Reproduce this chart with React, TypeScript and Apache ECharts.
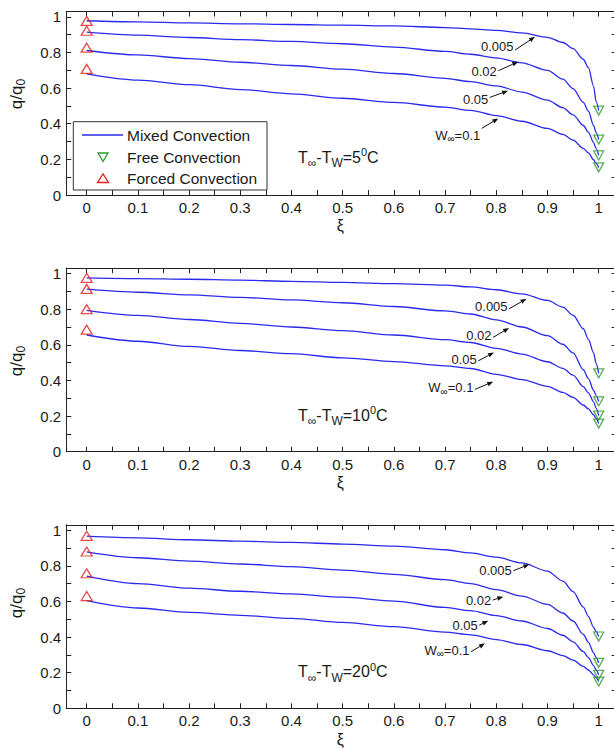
import React, { useEffect, useRef } from "react";
import * as echarts from "echarts";

// ---------- data ----------
const xi = [0, 0.1, 0.2, 0.3, 0.4, 0.5, 0.6, 0.7, 0.75, 0.8, 0.85, 0.9, 0.93, 0.95, 0.97, 0.98, 0.99, 0.995, 1];

// T∞-Tw = 5°C, W∞ = 0.005, 0.02, 0.05, 0.1
const m5_0005 = [0.978, 0.972, 0.966, 0.961, 0.957, 0.953, 0.949, 0.94, 0.933, 0.924, 0.91, 0.885, 0.856, 0.822, 0.762, 0.715, 0.61, 0.525, 0.474];
const m5_002 = [0.914, 0.897, 0.884, 0.872, 0.862, 0.849, 0.83, 0.806, 0.79, 0.77, 0.742, 0.7, 0.65, 0.597, 0.52, 0.47, 0.39, 0.35, 0.311];
const m5_005 = [0.811, 0.786, 0.766, 0.745, 0.727, 0.706, 0.682, 0.655, 0.636, 0.612, 0.578, 0.533, 0.49, 0.45, 0.39, 0.352, 0.295, 0.26, 0.222];
const m5_01 = [0.68, 0.645, 0.619, 0.592, 0.568, 0.543, 0.52, 0.493, 0.475, 0.446, 0.414, 0.374, 0.34, 0.308, 0.262, 0.236, 0.198, 0.178, 0.155];
const forced5 = [0.977, 0.922, 0.827, 0.708];
const free5 = [0.474, 0.311, 0.222, 0.155];

// T∞-Tw = 10°C
const m10_0005 = [0.976, 0.972, 0.968, 0.963, 0.956, 0.95, 0.943, 0.935, 0.925, 0.909, 0.886, 0.849, 0.812, 0.766, 0.69, 0.63, 0.555, 0.495, 0.44];
const m10_002 = [0.912, 0.895, 0.88, 0.866, 0.852, 0.836, 0.815, 0.79, 0.773, 0.74, 0.7, 0.651, 0.603, 0.555, 0.46, 0.41, 0.345, 0.315, 0.282];
const m10_005 = [0.793, 0.765, 0.742, 0.72, 0.7, 0.68, 0.655, 0.629, 0.613, 0.58, 0.548, 0.505, 0.468, 0.43, 0.365, 0.33, 0.28, 0.245, 0.203];
const m10_01 = [0.655, 0.62, 0.591, 0.568, 0.55, 0.527, 0.506, 0.482, 0.467, 0.434, 0.405, 0.367, 0.333, 0.305, 0.262, 0.24, 0.208, 0.185, 0.158];
const forced10 = [0.976, 0.914, 0.8, 0.685];
const free10 = [0.44, 0.282, 0.203, 0.158];

// T∞-Tw = 20°C
const m20_0005 = [0.966, 0.957, 0.946, 0.938, 0.931, 0.922, 0.91, 0.89, 0.872, 0.848, 0.816, 0.77, 0.714, 0.655, 0.568, 0.515, 0.455, 0.43, 0.403];
const m20_002 = [0.878, 0.845, 0.826, 0.81, 0.795, 0.776, 0.752, 0.722, 0.7, 0.666, 0.63, 0.583, 0.535, 0.49, 0.415, 0.37, 0.312, 0.285, 0.255];
const m20_005 = [0.742, 0.7, 0.674, 0.657, 0.642, 0.624, 0.602, 0.566, 0.548, 0.52, 0.49, 0.448, 0.41, 0.373, 0.318, 0.285, 0.24, 0.215, 0.188];
const m20_01 = [0.604, 0.563, 0.538, 0.522, 0.505, 0.482, 0.458, 0.428, 0.412, 0.386, 0.358, 0.323, 0.296, 0.27, 0.235, 0.215, 0.188, 0.172, 0.15];
const forced20 = [0.968, 0.88, 0.758, 0.63];
const free20 = [0.403, 0.255, 0.188, 0.15];

const deltaT = [5, 10, 20];
const wLabels = ["0.005", "0.02", "0.05", "{a|W}{s|∞}{a|=0.1}"];
const legendNames = ["Mixed Convection", "Free Convection", "Forced Convection"];

// ---------- layout / style ----------
const FONT = "'Liberation Sans', Arial, Helvetica, sans-serif";
const TXT = "#1a1a1a";
const AX = "#222";
const BLUE = "#2a2aee";
const RED = "#e02020";
const GREEN = "#2f9a2f";
const GRID_LEFT = 66.2;
const GRID_W = 550.4;
const GRID_H = 183.5;
const GRID_TOPS = [11.5, 268.2, 524.8];
const YLABEL_Y = [94, 361, 603];
const XLABEL_Y = [225, 482, 739];
const TLABEL_Y = [157, 415, 671.5];

// arrow annotations: tip in data space, tail offset (px), label dy (px)
const annots = [
  { tips: [[0.8756, 0.888], [0.843, 0.748], [0.823, 0.585], [0.804, 0.43]], tails: [[-20, 13.3], [-20, 9], [-18.3, 6.6], [-16.6, 10]], dy: [-3.3, 1, 2, 6.7] },
  { tips: [[0.859, 0.858], [0.825, 0.694], [0.7955, 0.557], [0.794, 0.393]], tails: [[-17.4, 10], [-16, 9.3], [-15.7, 8.4], [-18.3, 7.7]], dy: [-2.7, -2.3, -1.7, -1.7] },
  { tips: [[0.8645, 0.808], [0.8137, 0.626], [0.7844, 0.491], [0.778, 0.3646]], tails: [[-16, 6.4], [-10.6, 3.3], [-9, 4.3], [-14, 8.4]], dy: [-0.7, 0, 0.7, -1.7] },
];

const panels = [
  { curves: [m5_0005, m5_002, m5_005, m5_01], forced: forced5, free: free5 },
  { curves: [m10_0005, m10_002, m10_005, m10_01], forced: forced10, free: free10 },
  { curves: [m20_0005, m20_002, m20_005, m20_01], forced: forced20, free: free20 },
];

const xFmt = (v: number) => {
  const r = Math.round(v * 10) / 10;
  if (Math.abs(v - r) > 1e-6 || v < -1e-9 || v > 1 + 1e-9) return "";
  return String(Number(r.toFixed(1)));
};
const yFmt = (v: number) => {
  const r = Math.round(v * 5) / 5;
  if (Math.abs(v - r) > 1e-6 || v > 1 + 1e-9) return "";
  return String(Number(r.toFixed(1)));
};

function buildOption() {
  const grid: any[] = [];
  const xAxis: any[] = [];
  const yAxis: any[] = [];
  const series: any[] = [];
  const lineStyle = { color: AX, width: 1 };
  panels.forEach((p, i) => {
    grid.push({ left: GRID_LEFT, top: GRID_TOPS[i], width: GRID_W, height: GRID_H, containLabel: false });
    const xBase = {
      gridIndex: i, type: "value", min: -0.04, max: 1.035, minInterval: 0.1, maxInterval: 0.1, splitNumber: 10,
      axisLine: { show: true, onZero: false, lineStyle },
      axisTick: { show: true, inside: true, length: 5, lineStyle },
      minorTick: { show: true, splitNumber: 2, length: 5, lineStyle },
      splitLine: { show: false },
    };
    xAxis.push({ ...xBase, position: "bottom", axisLabel: { show: true, formatter: xFmt, margin: 5, fontSize: 15, color: TXT, fontFamily: FONT, showMinLabel: true, showMaxLabel: true } });
    xAxis.push({ ...xBase, position: "top", axisLabel: { show: false } });
    const yBase = {
      gridIndex: i, type: "value", min: 0, max: 1.03, interval: 0.1,
      axisLine: { show: true, onZero: false, lineStyle },
      axisTick: { show: true, inside: true, length: 5, lineStyle },
      splitLine: { show: false },
    };
    yAxis.push({ ...yBase, position: "left", axisLabel: { show: true, formatter: yFmt, margin: 5, fontSize: 15, color: TXT, fontFamily: FONT } });
    yAxis.push({ ...yBase, position: "right", axisLabel: { show: false } });

    p.curves.forEach((c, k) => {
      series.push({
        type: "line", name: legendNames[0] + " " + k, xAxisIndex: i * 2, yAxisIndex: i * 2,
        data: xi.map((x, j) => [x, c[j]]), symbol: "none", smooth: 0.3, smoothMonotone: "x",
        lineStyle: { color: BLUE, width: 1.3 }, z: 2, silent: true,
      });
    });
    series.push({
      type: "scatter", name: legendNames[2], xAxisIndex: i * 2, yAxisIndex: i * 2,
      data: p.forced.map((v) => [0, v]), symbol: "triangle", symbolSize: [11, 9],
      itemStyle: { color: "rgba(0,0,0,0)", borderColor: RED, borderWidth: 1.3 }, z: 5, silent: true,
    });
    series.push({
      type: "scatter", name: legendNames[1], xAxisIndex: i * 2, yAxisIndex: i * 2,
      data: p.free.map((v) => [1, v]), symbol: "triangle", symbolRotate: 180, symbolSize: [10, 9],
      itemStyle: { color: "rgba(0,0,0,0)", borderColor: GREEN, borderWidth: 1.3 }, z: 5, silent: true,
    });
  });
  return { animation: false, backgroundColor: "#fff", grid, xAxis, yAxis, series };
}

function arrow(tip: number[], tail: number[]) {
  const dx = tip[0] - tail[0], dy = tip[1] - tail[1];
  const len = Math.hypot(dx, dy);
  const ux = dx / len, uy = dy / len;
  const hl = 6, hw = 2.3;
  const bx = tip[0] - ux * hl, by = tip[1] - uy * hl;
  return [
    { type: "line", z: 50, shape: { x1: tail[0], y1: tail[1], x2: bx, y2: by }, style: { stroke: "#111", lineWidth: 1 } },
    { type: "polygon", z: 50, shape: { points: [[tip[0], tip[1]], [bx - uy * hw, by + ux * hw], [bx + uy * hw, by - ux * hw]] }, style: { fill: "#111" } },
  ];
}

function buildGraphics(chart: any) {
  const g: any[] = [];
  panels.forEach((_, i) => {
    // y label
    g.push({
      type: "text", x: 16.5, y: YLABEL_Y[i], rotation: Math.PI / 2, z: 50,
      style: {
        text: "{a|q/q}{s|0}", align: "center", verticalAlign: "middle",
        rich: {
          a: { fontSize: 17, fontFamily: FONT, fill: TXT },
          s: { fontSize: 12, fontFamily: FONT, fill: TXT, padding: [9, 0, 0, 0] },
        },
      },
    });
    // x label
    g.push({
      type: "text", x: GRID_LEFT + GRID_W / 2 - 1, y: XLABEL_Y[i], z: 50,
      style: { text: "ξ", fontSize: 16, fontFamily: FONT, fill: TXT, align: "center", verticalAlign: "middle" },
    });
    // temperature label
    g.push({
      type: "text", x: 298, y: TLABEL_Y[i], z: 50,
      style: {
        text: "{a|T}{s|∞}{a|-T}{s|W}{a|=" + deltaT[i] + "}{p|0}{a|C}", align: "left", verticalAlign: "middle",
        rich: {
          a: { fontSize: 16, fontFamily: FONT, fill: TXT },
          s: { fontSize: 12, fontFamily: FONT, fill: TXT, padding: [12, 0, 0, 0] },
          p: { fontSize: 11, fontFamily: FONT, fill: TXT, padding: [0, 0, 10, 0] },
        },
      },
    });
    // arrows
    const a = annots[i];
    a.tips.forEach((t, k) => {
      const tip = chart.convertToPixel({ gridIndex: i }, t);
      const tail = [tip[0] + a.tails[k][0], tip[1] + a.tails[k][1]];
      g.push(...arrow(tip, tail));
      g.push({
        type: "text", x: tail[0] - 1.5, y: tail[1] + a.dy[k], z: 50,
        style: {
          text: k === 3 ? wLabels[k] : "{a|" + wLabels[k] + "}", align: "right", verticalAlign: "middle",
          rich: {
            a: { fontSize: 13, fontFamily: FONT, fill: TXT },
            s: { fontSize: 10, fontFamily: FONT, fill: TXT, padding: [7, 0, 0, 0] },
          },
        },
      });
    });
  });
  // legend (top panel)
  const lx = 73.3, ly = 121.7;
  g.push({ type: "rect", z: 60, shape: { x: lx, y: ly, width: 193.7, height: 68.3 }, style: { fill: "#fff", stroke: "#333", lineWidth: 1 } });
  const rows = [135, 157, 178.5];
  g.push({ type: "line", z: 61, shape: { x1: 82, y1: rows[0], x2: 123, y2: rows[0] }, style: { stroke: BLUE, lineWidth: 1.3 } });
  g.push({ type: "polygon", z: 61, shape: { points: [[98, rows[1] - 4], [108, rows[1] - 4], [103, rows[1] + 4.5]] }, style: { fill: "none", stroke: GREEN, lineWidth: 1.3 } });
  g.push({ type: "polygon", z: 61, shape: { points: [[97.5, rows[2] + 4], [108.5, rows[2] + 4], [103, rows[2] - 4.5]] }, style: { fill: "none", stroke: RED, lineWidth: 1.3 } });
  legendNames.forEach((n, k) => {
    g.push({ type: "text", z: 61, x: 127, y: rows[k], style: { text: n, fontSize: 15.5, fontFamily: FONT, fill: TXT, align: "left", verticalAlign: "middle" } });
  });
  return g;
}

export default function App() {
  const ref = useRef<HTMLDivElement>(null);
  useEffect(() => {
    if (!ref.current) return;
    const chart = echarts.init(ref.current, undefined, { renderer: "svg" });
    chart.setOption(buildOption() as any);
    chart.setOption({ graphic: buildGraphics(chart) } as any);
    return () => chart.dispose();
  }, []);
  return (
    <div style={{ position: "absolute", left: 0, top: 0, width: 614, height: 748, overflow: "hidden", background: "#fff" }}>
      <div ref={ref} style={{ width: 624, height: 748 }} />
    </div>
  );
}
